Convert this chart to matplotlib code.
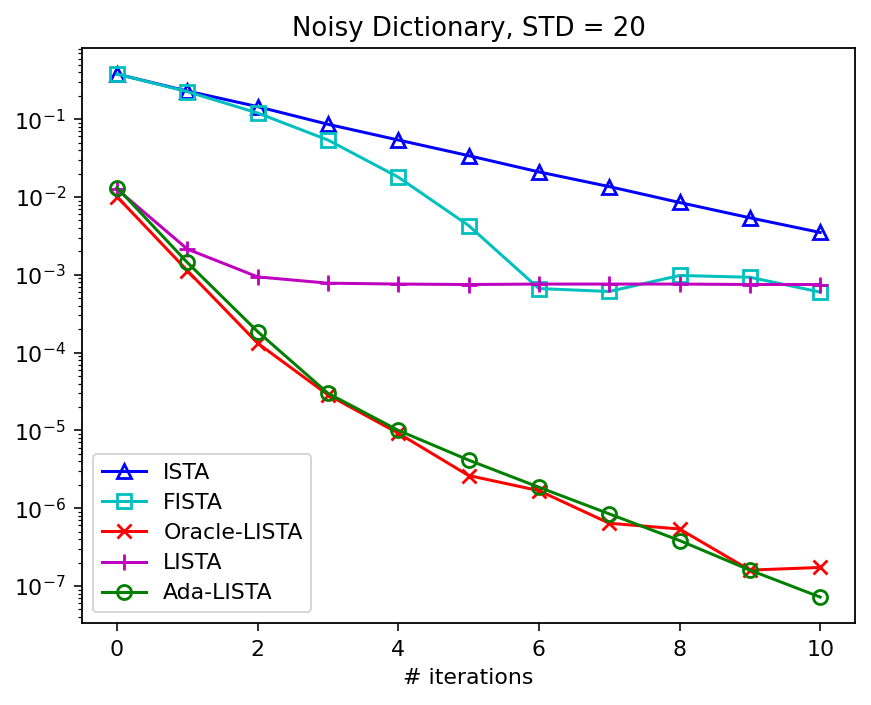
import matplotlib
matplotlib.use("Agg")
import matplotlib.pyplot as plt
import numpy as np

iterations = list(range(11))
ista = [0.38, 0.23, 0.145, 0.086, 0.054, 0.034, 0.021, 0.0136, 0.0085, 0.0054, 0.0035]
fista = [0.38, 0.226, 0.12, 0.054, 0.018, 0.0043, 6.65e-4, 6.1e-4, 9.8e-4, 9.3e-4, 6.0e-4]
oracle_lista = [0.0101, 0.00113, 1.32e-4, 2.86e-5, 9.2e-6, 2.63e-6, 1.68e-6, 6.4e-7, 5.4e-7, 1.6e-7, 1.73e-7]
lista = [0.0126, 0.00214, 9.4e-4, 7.8e-4, 7.6e-4, 7.5e-4, 7.6e-4, 7.6e-4, 7.6e-4, 7.5e-4, 7.5e-4]
ada_lista = [0.0132, 0.00144, 1.86e-4, 3.0e-5, 1.0e-5, 4.15e-6, 1.86e-6, 8.45e-7, 3.84e-7, 1.6e-7, 7.2e-8]

plt.rcParams.update({
    'font.size': 11,
    'axes.titlesize': 13,
    'legend.fontsize': 11,
    'legend.labelspacing': 0.46,
    'legend.borderpad': 0.4,
    'xtick.major.pad': 4.5,
    'ytick.major.pad': 4.0,
    'xtick.major.size': 4,
    'ytick.major.size': 4,
    'axes.linewidth': 0.9,
})

fig = plt.figure(figsize=(871/144, 705/144), dpi=144)
ax = fig.add_subplot(111)
fig.subplots_adjust(left=0.094, right=0.982, top=0.932, bottom=0.116)

ms = 7
mew = 1.4
ax.plot(iterations, ista, color='b', marker='^', fillstyle='none', markersize=ms, markeredgewidth=mew, label='ISTA')
ax.plot(iterations, fista, color='c', marker='s', fillstyle='none', markersize=ms, markeredgewidth=mew, label='FISTA')
ax.plot(iterations, oracle_lista, color='r', marker='x', markersize=ms, markeredgewidth=mew, label='Oracle-LISTA')
ax.plot(iterations, lista, color='m', marker='+', markersize=ms + 1, markeredgewidth=mew, label='LISTA')
ax.plot(iterations, ada_lista, color='g', marker='o', fillstyle='none', markersize=ms, markeredgewidth=mew, label='Ada-LISTA')

ax.set_yscale('log')
ax.set_xticks([0, 2, 4, 6, 8, 10])
ax.set_xlabel('# iterations')
ax.set_title('Noisy Dictionary, STD = 20')
ax.legend(loc='lower left')

fig.savefig('out.png', dpi=144)
